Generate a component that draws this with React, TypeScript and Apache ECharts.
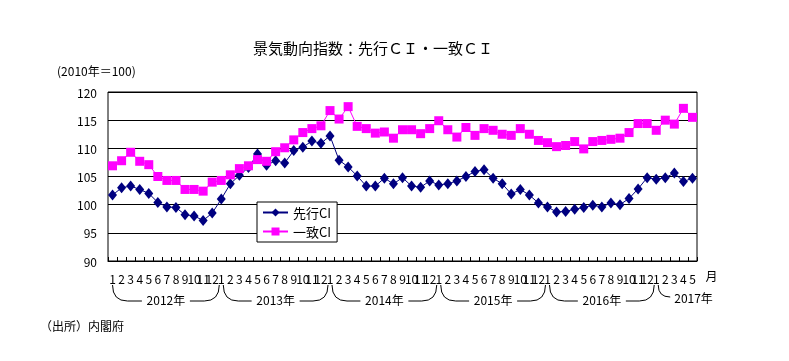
import React, { useEffect, useRef } from "react";
import * as echarts from "echarts";

const MONTH_NAMES = ["1", "2", "3", "4", "5", "6", "7", "8", "9", "10", "11", "12"];
const YEAR_LABELS = ["2012年", "2013年", "2014年", "2015年", "2016年", "2017年"];
const MONTHS_PER_YEAR = [12, 12, 12, 12, 12, 5];

const SENKO_CI = [
  101.7, 103.0, 103.3, 102.7, 102.0, 100.4, 99.6, 99.5, 98.2, 98.0, 97.2, 98.5,
  101.0, 103.7, 105.2, 106.6, 109.0, 107.0, 107.8, 107.4, 109.6, 110.2, 111.3, 110.9,
  112.2, 107.9, 106.7, 105.1, 103.3, 103.3, 104.7, 103.7, 104.8, 103.3, 103.1, 104.2,
  103.5, 103.7, 104.2, 105.0, 105.9, 106.2, 104.7, 103.7, 101.9, 102.7, 101.7, 100.3,
  99.6, 98.7, 98.8, 99.2, 99.5, 99.9, 99.6, 100.3, 100.0, 101.1, 102.8, 104.8,
  104.5, 104.8, 105.6, 104.1, 104.7,
];

const ICCHI_CI = [
  106.9, 107.8, 109.3, 107.7, 107.1, 105.0, 104.3, 104.3, 102.7, 102.7, 102.4, 104.0,
  104.3, 105.3, 106.4, 106.9, 108.0, 107.7, 109.4, 110.1, 111.5, 112.8, 113.5, 114.0,
  116.7, 115.2, 117.4, 113.9, 113.5, 112.7, 112.9, 111.8, 113.3, 113.3, 112.6, 113.5,
  114.9, 113.3, 112.0, 113.7, 112.3, 113.5, 113.2, 112.5, 112.3, 113.5, 112.5, 111.4,
  111.0, 110.3, 110.5, 111.2, 109.9, 111.2, 111.4, 111.6, 111.8, 112.8, 114.4, 114.4,
  113.2, 115.0, 114.3, 117.1, 115.5,
];

const Y_MIN = 90;
const Y_MAX = 120;
const Y_STEP = 5;

const TITLE = "景気動向指数：先行ＣＩ・一致ＣＩ";
const UNIT = "(2010年＝100)";
const SOURCE = "（出所）内閣府";
const MONTH_UNIT = "月";
const SERIES_NAMES = ["先行CI", "一致CI"];

const categories = YEAR_LABELS.flatMap((_, i) => MONTH_NAMES.slice(0, MONTHS_PER_YEAR[i]));

const FONT = '"Noto Sans CJK JP", "Noto Sans", sans-serif';

export default function App() {
  const ref = useRef<HTMLDivElement>(null);

  useEffect(() => {
    const chart = echarts.init(ref.current!, null, { renderer: "svg" });
    chart.setOption({
      animation: false,
      textStyle: { fontFamily: FONT, color: "#000" },
      title: {
        text: TITLE,
        left: 253,
        top: 40,
        padding: 0,
        textStyle: { fontSize: 15, fontWeight: "normal", color: "#000", fontFamily: FONT },
      },
      legend: {
        orient: "vertical",
        left: 257,
        top: 202,
        backgroundColor: "#fff",
        borderColor: "#000",
        borderWidth: 1,
        padding: [4, 6, 4, 5],
        itemWidth: 25,
        itemHeight: 10,
        itemGap: 6,
        data: SERIES_NAMES,
        textStyle: { fontSize: 13, color: "#000", fontFamily: FONT },
      },
      grid: {
        left: 108,
        right: 92,
        top: 92,
        bottom: 100,
        show: true,
        borderColor: "#000",
        borderWidth: 1,
      },
      xAxis: {
        type: "category",
        data: categories,
        boundaryGap: true,
        axisLine: { lineStyle: { color: "#000", width: 1 } },
        axisTick: { show: true, inside: true, length: 4, interval: 0, lineStyle: { color: "#000" } },
        axisLabel: { interval: 0, fontSize: 12, margin: 11, color: "#000", fontFamily: FONT },
        splitLine: { show: false },
      },
      yAxis: {
        type: "value",
        min: Y_MIN,
        max: Y_MAX,
        interval: Y_STEP,
        axisLine: { show: false },
        axisTick: { show: false },
        axisLabel: { fontSize: 12, margin: 11, color: "#000", fontFamily: FONT },
        splitLine: { lineStyle: { color: "#000", width: 1 } },
      },
      series: [
        {
          name: SERIES_NAMES[0],
          type: "line",
          data: SENKO_CI,
          symbol: "diamond",
          symbolSize: [9, 11],
          itemStyle: { color: "#000080" },
          lineStyle: { color: "#000080", width: 1 },
        },
        {
          name: SERIES_NAMES[1],
          type: "line",
          data: ICCHI_CI,
          symbol: "rect",
          symbolSize: 9,
          itemStyle: { color: "#FF00FF" },
          lineStyle: { color: "#FF00FF", width: 1 },
        },
      ],
    });

    const cx = (i: number) => chart.convertToPixel({ xAxisIndex: 0 }, i) as number;
    const graphics: any[] = [];
    const stroke = { stroke: "#000", lineWidth: 1, fill: null };
    const yT = 285;
    const yB = 301;
    const textStyle = (text: string, align: string) => ({
      text,
      fontSize: 12,
      fontFamily: FONT,
      fill: "#000",
      textAlign: align,
      textVerticalAlign: "middle",
    });

    let start = 0;
    YEAR_LABELS.forEach((label, i) => {
      const n = MONTHS_PER_YEAR[i];
      const x0 = cx(start) + (i === 0 ? 0 : 2);
      if (n === 12) {
        const x1 = cx(start + 12) - 2;
        const mid = (x0 + x1) / 2;
        graphics.push(
          { type: "bezierCurve", shape: { x1: x0, y1: yT, x2: x0 + 15, y2: yB, cpx1: x0, cpy1: yB }, style: stroke },
          { type: "line", shape: { x1: x0 + 15, y1: yB, x2: mid - 24, y2: yB }, style: stroke },
          { type: "text", x: mid, y: yB - 2, style: textStyle(label, "center") },
          { type: "line", shape: { x1: mid + 24, y1: yB, x2: x1 - 15, y2: yB }, style: stroke },
          { type: "bezierCurve", shape: { x1: x1 - 15, y1: yB, x2: x1, y2: yT, cpx1: x1, cpy1: yB }, style: stroke }
        );
      } else {
        graphics.push(
          { type: "bezierCurve", shape: { x1: x0, y1: yT, x2: x0 + 12, y2: yB - 4, cpx1: x0, cpy1: yB - 4 }, style: stroke },
          { type: "text", x: x0 + 16, y: yB - 4, style: textStyle(label, "left") }
        );
      }
      start += n;
    });

    graphics.push(
      { type: "text", x: cx(categories.length - 1) + 13, y: 275, style: textStyle(MONTH_UNIT, "left") },
      { type: "text", x: 57, y: 70, style: textStyle(UNIT, "left") },
      { type: "text", x: 40, y: 325, style: textStyle(SOURCE, "left") }
    );

    chart.setOption({ graphic: graphics });

    return () => chart.dispose();
  }, []);

  return <div ref={ref} style={{ position: "fixed", left: 0, top: 0, width: 789, height: 361 }} />;
}
